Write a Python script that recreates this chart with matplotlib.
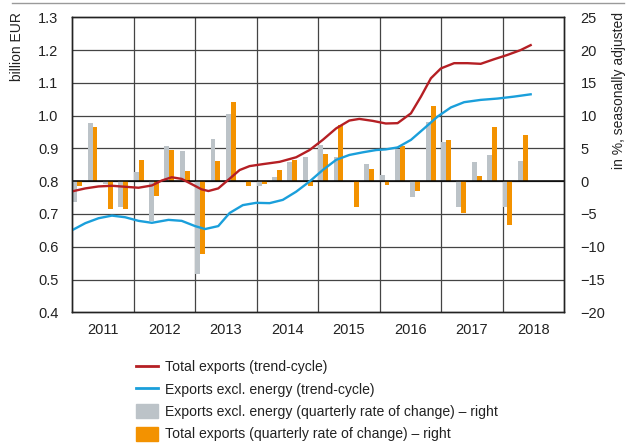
import matplotlib
matplotlib.use("Agg")
import matplotlib.pyplot as plt
from matplotlib.lines import Line2D
from matplotlib.patches import Patch

plt.rcParams["font.family"] = ["Liberation Sans", "DejaVu Sans"]

# quarterly rates of change, 2011 Q1 .. 2018 Q2 (right axis, %)
excl_energy_q = [-3.1, 8.8, -0.4, -4.0,
                 1.4, -6.1, 5.4, 4.6,
                 -14.1, 6.4, 10.25, 0.0,
                 -0.75, 0.7, 2.95, 3.75,
                 5.5, 3.65, 0.0, 2.6,
                 0.95, 4.9, -2.4, 9.0,
                 6.0, -3.9, 2.9, 4.05,
                 -4.0, 3.1]
total_q = [-0.66, 8.2, -4.2, -4.2,
           3.25, -2.2, 4.7, 1.5,
           -11.1, 3.05, 12.1, -0.7,
           -0.4, 1.7, 3.3, -0.7,
           4.2, 8.5, -4.0, 1.8,
           -0.6, 5.4, -1.5, 11.5,
           6.3, -4.9, 0.8, 8.3,
           -6.7, 7.1]

# trend-cycle (left axis, billion EUR), x in quarters since 2011 Q1
total_x = [0.09, 0.85, 1.71, 2.58, 3.44, 4.31, 5.18, 5.82, 6.47, 7.12, 7.77, 8.42, 8.86,
           9.5, 10.2, 10.89, 11.54, 12.4, 13.49, 14.57, 15.44, 16.3, 17.17, 18.03, 18.68,
           19.55, 20.4, 21.17, 22.04, 22.69, 23.34, 23.99, 24.85, 25.71, 26.58, 27.45,
           28.31, 29.18, 29.83]
total_trend = [0.770, 0.778, 0.784, 0.786, 0.783, 0.780, 0.787, 0.802, 0.812, 0.807, 0.791, 0.775, 0.770,
               0.778, 0.806, 0.834, 0.846, 0.852, 0.859, 0.873, 0.895, 0.926, 0.961, 0.985, 0.990,
               0.984, 0.976, 0.977, 1.007, 1.058, 1.114, 1.144, 1.160, 1.160, 1.158, 1.172,
               1.185, 1.200, 1.215]
excl_x = [0.09, 0.85, 1.71, 2.58, 3.44, 4.31, 5.18, 6.26, 7.12, 7.99, 8.64, 9.5, 10.24,
          11.1, 11.97, 12.84, 13.7, 14.57, 15.44, 16.3, 17.17, 18.03, 18.9, 19.77, 20.4,
          21.17, 22.04, 22.9, 23.77, 24.64, 25.5, 26.58, 27.66, 28.75, 29.83]
excl_trend = [0.653, 0.672, 0.687, 0.695, 0.690, 0.679, 0.673, 0.682, 0.679, 0.663, 0.654, 0.663, 0.703,
              0.727, 0.734, 0.733, 0.743, 0.768, 0.799, 0.834, 0.865, 0.880, 0.888, 0.895, 0.897,
              0.903, 0.926, 0.961, 0.997, 1.025, 1.041, 1.048, 1.052, 1.058, 1.065]

years = ["2011", "2012", "2013", "2014", "2015", "2016", "2017", "2018"]

RED = "#b51f24"
BLUE = "#1a9fdb"
GREY = "#bcc3c8"
ORANGE = "#f39200"

fig = plt.figure(figsize=(6.38, 4.43), dpi=100)
ax = fig.add_axes([0.1133, 0.295, 0.7707, 0.666])
ax2 = ax.twinx()

# bars on the right (%) axis, underneath
q = list(range(len(total_q)))
w = 0.32
ax2.bar(q, excl_energy_q, width=w, align="edge", color=GREY, zorder=2)
ax2.bar([i + w for i in q], total_q, width=w, align="edge", color=ORANGE, zorder=2)
ax2.set_ylim(-20, 25)
ax2.set_yticks(range(-20, 30, 5))
ax2.set_yticklabels([str(v).replace("-", "\u2212") for v in range(-20, 30, 5)])
for v in range(-15, 25, 5):
    ax2.axhline(v, color="#444444", lw=0.9, zorder=1)
ax2.axhline(0, color="black", lw=1.1, zorder=3)
for b in range(4, 32, 4):
    ax2.axvline(b, color="#444444", lw=0.9, zorder=1)

# lines on the left axis, on top
ax.set_zorder(ax2.get_zorder() + 1)
ax.patch.set_visible(False)
ax.plot(total_x, total_trend, color=RED, lw=1.7, solid_joinstyle="round")
ax.plot(excl_x, excl_trend, color=BLUE, lw=1.7, solid_joinstyle="round")
ax.set_ylim(0.4, 1.3)
ax.set_yticks([0.4 + 0.1 * i for i in range(10)])
ax.set_yticklabels([f"{0.4 + 0.1 * i:.1f}" for i in range(10)])

ax.set_xlim(0, 32)
ax.set_xticks(range(0, 33, 4))
ax.set_xticklabels([])
ax.set_xticks([2 + 4 * i for i in range(8)], minor=True)
ax.set_xticklabels(years, minor=True)

for a in (ax, ax2):
    a.tick_params(axis="both", which="both", length=0, labelsize=10.5, colors="#222222")
    for s in a.spines.values():
        s.set_color("#222222")
        s.set_linewidth(1.0)
ax.tick_params(axis="y", pad=10)
ax2.tick_params(axis="y", pad=12)
ax.tick_params(axis="x", which="minor", pad=8)

fig.text(0.027, 0.972, "billion EUR", rotation=90, va="top", ha="center",
         fontsize=10, color="#222222")
fig.text(0.970, 0.972, "in %, seasonally adjusted", rotation=90, va="top", ha="center",
         fontsize=10, color="#222222")

# thin rule at the top
fig.add_artist(Line2D([0.019, 0.978], [0.993, 0.993], color="#9a9a9a", lw=1.0))

handles = [
    Line2D([], [], color=RED, lw=2),
    Line2D([], [], color=BLUE, lw=2),
    Patch(color=GREY),
    Patch(color=ORANGE),
]
labels = [
    "Total exports (trend-cycle)",
    "Exports excl. energy (trend-cycle)",
    "Exports excl. energy (quarterly rate of change) \u2013 right",
    "Total exports (quarterly rate of change) \u2013 right",
]
fig.legend(handles, labels, loc="upper left", bbox_to_anchor=(0.213, 0.188),
           frameon=False, fontsize=10.1, handlelength=1.6, handleheight=1.15,
           handletextpad=0.45, labelspacing=0.54, borderpad=0, borderaxespad=0,
           labelcolor="#222222")

fig.savefig("out.png", dpi=100)
